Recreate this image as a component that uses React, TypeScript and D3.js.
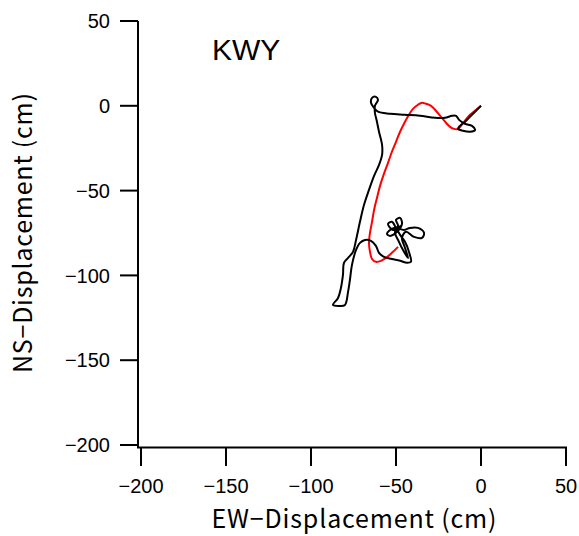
import React from "react";
import * as d3 from "d3";

const stationName = "KWY";
const xTicks = [-200, -150, -100, -50, 0, 50];
const yTicks = [50, 0, -50, -100, -150, -200];

// Observed trace (EW, NS) in cm
const obsEW = [0, -2.9, -6.5, -9.4, -12.4, -13.5, -10.6, -6.5, -3.5, -5.3, -9.4, -12.9, -14.7, -17.1, -21.2, -27.1, -35.9, -44.7, -53.5, -60.6, -62.9, -64.7, -64.1, -61.8, -60.6, -62.4, -62.4, -61.2, -60.0, -58.2, -58.2, -60.0, -62.9, -65.9, -68.8, -71.2, -73.5, -75.3, -78.2, -80.6, -81.2, -82.4, -84.1, -87.1, -82.9, -80.0, -78.2, -77.1, -75.9, -73.5, -71.2, -68.2, -64.7, -61.8, -60.0, -57.1, -52.4, -47.6, -43.5, -41.2, -42.4, -44.7, -47.6, -50.0, -52.4, -54.7, -51.8, -48.8, -50.0, -47.6, -46.5, -49.4, -53.5, -55.3, -51.2, -45.3, -41.8, -37.1, -33.5, -34.7, -39.4, -44.1, -46.5, -44.7, -42.9, -45.3, -48.8, -50.6, -47.1];
const obsNS = [0, -2.9, -6.5, -9.4, -11.8, -13.6, -14.7, -15.3, -14.2, -11.8, -10.6, -8.3, -5.9, -5.9, -7.1, -7.1, -5.9, -5.3, -4.7, -3.5, -1.2, 1.8, 4.7, 5.3, 3.5, 0, -4.1, -9.4, -15.3, -23.0, -28.9, -34.8, -41.3, -49.6, -58.4, -68.4, -79.1, -86.1, -89.7, -92.6, -99.7, -107.4, -113.3, -117.4, -118.0, -117.4, -109.7, -102.7, -93.8, -85.0, -80.8, -79.1, -79.6, -82.6, -86.7, -89.1, -90.3, -91.4, -92.6, -92.0, -86.1, -80.2, -76.1, -72.0, -68.4, -69.6, -73.2, -70.8, -67.3, -66.1, -69.6, -74.3, -76.7, -75.5, -72.0, -73.2, -72.0, -72.0, -74.9, -77.9, -77.3, -74.3, -77.9, -83.8, -89.7, -86.1, -79.1, -74.3, -70.8];

// Simulated trace (EW, NS) in cm
const simEW = [0, -2.9, -6.5, -9.4, -11.8, -13.5, -15.9, -18.2, -20.6, -23.5, -26.5, -29.4, -32.4, -34.7, -37.1, -40.0, -42.4, -44.7, -47.6, -50.0, -52.4, -54.7, -57.1, -59.4, -61.2, -62.9, -64.1, -65.3, -65.9, -65.3, -64.1, -61.8, -58.8, -55.9, -52.4, -48.8];
const simNS = [0, -2.4, -5.3, -8.8, -11.8, -13.6, -13.6, -12.4, -10.0, -6.5, -2.9, 0, 1.2, 1.8, 0.6, -1.8, -5.3, -9.4, -15.3, -21.2, -27.1, -33.6, -40.1, -47.2, -54.3, -61.4, -68.4, -74.9, -80.8, -86.1, -90.3, -92.0, -91.4, -89.7, -86.7, -83.2];

const W = 579;
const H = 536;

export default function App() {
  const x = d3.scaleLinear().domain([-200, 50]).range([141, 566]);
  const y = d3.scaleLinear().domain([-200, 50]).range([445, 21]);
  const axisX = 138;
  const axisY = 447.5;

  const line = d3
    .line<[number, number]>()
    .x((d) => x(d[0]))
    .y((d) => y(d[1]))
    .curve(d3.curveCatmullRom.alpha(0.5));

  const obs: [number, number][] = obsEW.map((e, i) => [e, obsNS[i]]);
  const sim: [number, number][] = simEW.map((e, i) => [e, simNS[i]]);

  const tickFont = "'Liberation Sans', Arial, sans-serif";
  const titleFont = "'Noto Sans CJK JP', 'Liberation Sans', sans-serif";

  return (
    <svg width={W} height={H} style={{ position: "absolute", left: 0, top: 0 }}>
      <rect x={0} y={0} width={W} height={H} fill="#fff" />
      {/* y axis */}
      <line x1={axisX} x2={axisX} y1={y(50)} y2={axisY} stroke="#000" strokeWidth={2} />
      {yTicks.map((t) => (
        <g key={"y" + t}>
          <line x1={120} x2={axisX} y1={y(t)} y2={y(t)} stroke="#000" strokeWidth={2} />
          <text x={110} y={y(t)} dy="0.36em" textAnchor="end" fontSize={20} fontFamily={tickFont}>
            {t < 0 ? "\u2212" + Math.abs(t) : String(t)}
          </text>
        </g>
      ))}
      {/* x axis */}
      <line x1={axisX - 1} x2={x(50) + 1} y1={axisY} y2={axisY} stroke="#000" strokeWidth={2} />
      {xTicks.map((t) => (
        <g key={"x" + t}>
          <line x1={x(t)} x2={x(t)} y1={axisY} y2={466} stroke="#000" strokeWidth={2} />
          <text x={x(t)} y={493} textAnchor="middle" fontSize={20} fontFamily={tickFont}>
            {t < 0 ? "\u2212" + Math.abs(t) : String(t)}
          </text>
        </g>
      ))}
      <text x={354} y={528} textAnchor="middle" fontSize={25} fontFamily={titleFont} textLength={285}>
        EW−Displacement (cm)
      </text>
      <text
        transform={`translate(32, 233) rotate(-90)`}
        textAnchor="middle"
        fontSize={25}
        fontFamily={titleFont}
        textLength={280}
      >
        NS−Displacement (cm)
      </text>
      <text x={212} y={60} fontSize={30} fontFamily={tickFont}>
        {stationName}
      </text>
      <path d={line(sim) || ""} fill="none" stroke="#ff0000" strokeWidth={2} />
      <path d={line(obs) || ""} fill="none" stroke="#000" strokeWidth={2} />
    </svg>
  );
}
